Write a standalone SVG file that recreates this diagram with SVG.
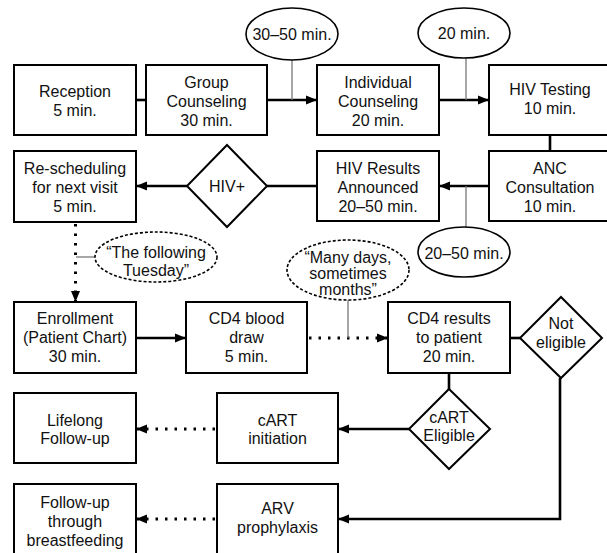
<svg xmlns="http://www.w3.org/2000/svg" width="607" height="553" viewBox="0 0 607 553">
<defs>
<marker id="ah" markerUnits="userSpaceOnUse" markerWidth="12" markerHeight="10" refX="11" refY="5" orient="auto">
<path d="M0,0.5 L11,5 L0,9.5 z" fill="#000"/>
</marker>
</defs>
<style>
.box{fill:#fff;stroke:#000;stroke-width:2}
.dia{fill:#fff;stroke:#000;stroke-width:2}
.ell{fill:#fff;stroke:#000;stroke-width:1.6}
.dell{fill:#fff;stroke:#000;stroke-width:1.6;stroke-dasharray:3 2}
text{font-family:"Liberation Sans",Arial,sans-serif;font-size:16px;fill:#111;text-anchor:middle}
.c{fill:none;stroke:#000;stroke-width:2.6}
.d{fill:none;stroke:#000;stroke-width:3;stroke-dasharray:2.5 7}
.g{fill:none;stroke:#777;stroke-width:1.3}
</style>
<rect width="607" height="553" fill="#fff"/>
<g id="connectors">
<line class="c" x1="136" y1="100" x2="146" y2="100"/>
<line class="c" x1="267" y1="100" x2="317" y2="100" marker-end="url(#ah)"/>
<line class="c" x1="439" y1="100" x2="489" y2="100" marker-end="url(#ah)"/>
<line class="c" x1="550" y1="135" x2="550" y2="151"/>
<line class="c" x1="489" y1="186" x2="439" y2="186" marker-end="url(#ah)"/>
<line class="c" x1="317" y1="186" x2="267" y2="186"/>
<line class="c" x1="187" y1="186" x2="136" y2="186" marker-end="url(#ah)"/>
<line class="d" x1="75.5" y1="224" x2="75.5" y2="302" marker-end="url(#ah)"/>
<line class="c" x1="136" y1="338" x2="186" y2="338" marker-end="url(#ah)"/>
<line class="d" x1="309" y1="338" x2="388" y2="338" marker-end="url(#ah)"/>
<line class="c" x1="510" y1="338" x2="520" y2="338"/>
<line class="c" x1="449" y1="373" x2="449" y2="389"/>
<line class="c" x1="409" y1="429" x2="338" y2="429" marker-end="url(#ah)"/>
<line class="d" x1="215" y1="429" x2="136" y2="429" marker-end="url(#ah)"/>
<polyline class="c" points="560,378 560,519 338,519" marker-end="url(#ah)"/>
<line class="d" x1="215" y1="519" x2="136" y2="519" marker-end="url(#ah)"/>
<line class="g" x1="292" y1="60" x2="292" y2="100"/>
<line class="g" x1="466" y1="58" x2="466" y2="100"/>
<line class="g" x1="466" y1="186" x2="466" y2="227"/>
<line class="g" x1="76" y1="257" x2="95" y2="257"/>
<line class="g" x1="348" y1="299" x2="348" y2="338"/>
</g>
<g id="reception"><rect class="box" x="14" y="65" width="122" height="70"/><text x="75" y="97">Reception</text><text x="75" y="116">5 min.</text></g>
<g id="group-counseling"><rect class="box" x="146" y="65" width="121" height="70"/><text x="206.5" y="88">Group</text><text x="206.5" y="107">Counseling</text><text x="206.5" y="126">30 min.</text></g>
<g id="ellipse-3050a"><ellipse class="ell" cx="292" cy="34" rx="46" ry="26"/><text x="292" y="40">30–50 min.</text></g>
<g id="individual-counseling"><rect class="box" x="317" y="65" width="122" height="70"/><text x="378" y="88">Individual</text><text x="378" y="107">Counseling</text><text x="378" y="126">20 min.</text></g>
<g id="ellipse-20"><ellipse class="ell" cx="464" cy="33" rx="46" ry="25"/><text x="464" y="39">20 min.</text></g>
<g id="hiv-testing"><rect class="box" x="489" y="65" width="123" height="70"/><text x="550" y="95">HIV Testing</text><text x="550" y="114">10 min.</text></g>
<g id="rescheduling"><rect class="box" x="14" y="151" width="122" height="71"/><text x="75" y="174">Re-scheduling</text><text x="75" y="193">for next visit</text><text x="75" y="212">5 min.</text></g>
<g id="hiv-plus"><polygon class="dia" points="227,145 267,186 227,227 187,186"/><text x="227" y="192">HIV+</text></g>
<g id="hiv-results"><rect class="box" x="317" y="151" width="122" height="70"/><text x="378" y="174">HIV Results</text><text x="378" y="193">Announced</text><text x="378" y="212">20–50 min.</text></g>
<g id="anc"><rect class="box" x="489" y="151" width="123" height="70"/><text x="550" y="174">ANC</text><text x="550" y="193">Consultation</text><text x="550" y="212">10 min.</text></g>
<g id="ellipse-3050b"><ellipse class="ell" cx="464" cy="252" rx="46" ry="25"/><text x="464" y="259">20–50 min.</text></g>
<g id="following-tuesday"><ellipse class="dell" cx="156" cy="257" rx="61" ry="25"/><text x="156" y="258">“The following</text><text x="156" y="276">Tuesday”</text></g>
<g id="many-days"><ellipse class="dell" cx="348" cy="270" rx="61" ry="30"/><text x="348" y="263">“Many days,</text><text x="348" y="279">sometimes</text><text x="348" y="295">months”</text></g>
<g id="enrollment"><rect class="box" x="14" y="302" width="122" height="71"/><text x="75" y="324">Enrollment</text><text x="75" y="343">(Patient Chart)</text><text x="75" y="362">30 min.</text></g>
<g id="cd4-draw"><rect class="box" x="186" y="302" width="121" height="71"/><text x="246.5" y="324">CD4 blood</text><text x="246.5" y="343">draw</text><text x="246.5" y="362">5 min.</text></g>
<g id="cd4-results"><rect class="box" x="388" y="302" width="122" height="71"/><text x="449" y="324">CD4 results</text><text x="449" y="343">to patient</text><text x="449" y="362">20 min.</text></g>
<g id="not-eligible"><polygon class="dia" points="561,297 602,338 561,378 520,338"/><text x="561" y="329">Not</text><text x="561" y="348">eligible</text></g>
<g id="cart-eligible"><polygon class="dia" points="449,389 490,429 449,469 409,429"/><text x="449" y="423">cART</text><text x="449" y="441">Eligible</text></g>
<g id="lifelong"><rect class="box" x="14" y="393" width="122" height="70"/><text x="75" y="426">Lifelong</text><text x="75" y="444">Follow-up</text></g>
<g id="cart-initiation"><rect class="box" x="217" y="393" width="121" height="70"/><text x="277.5" y="426">cART</text><text x="277.5" y="444">initiation</text></g>
<g id="followup-bf"><rect class="box" x="14" y="484" width="122" height="80"/><text x="75" y="508">Follow-up</text><text x="75" y="527">through</text><text x="75" y="546">breastfeeding</text></g>
<g id="arv"><rect class="box" x="217" y="484" width="121" height="80"/><text x="277.5" y="514">ARV</text><text x="277.5" y="533">prophylaxis</text></g>
</svg>
